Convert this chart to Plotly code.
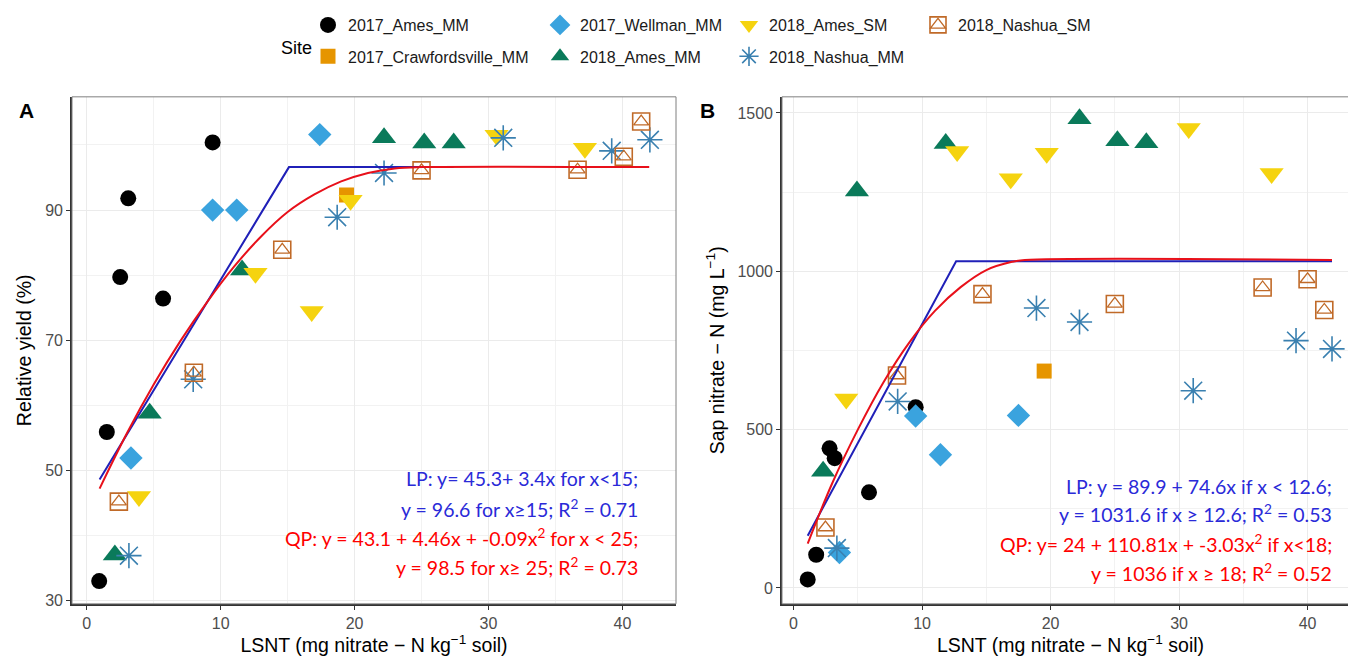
import plotly.graph_objects as go

# ---------------- data ----------------
sites = ["2017_Ames_MM", "2017_Crawfordsville_MM", "2017_Wellman_MM", "2018_Ames_MM",
         "2018_Ames_SM", "2018_Nashua_MM", "2018_Nashua_SM"]

# Panel A: relative yield (%) vs LSNT
a_ames17_x = [0.93, 1.5, 2.5, 3.1, 5.7, 9.4]
a_ames17_y = [33.0, 55.9, 79.7, 91.8, 76.4, 100.4]
a_craw17_x = [19.4]
a_craw17_y = [92.3]
a_well17_x = [3.3, 9.4, 11.2, 17.4]
a_well17_y = [51.9, 90.0, 90.0, 101.6]
a_ames18mm_x = [2.1, 4.7, 11.6, 22.2, 25.2, 27.4]
a_ames18mm_y = [37.0, 58.8, 80.8, 101.1, 100.3, 100.3]
a_ames18sm_x = [3.9, 12.6, 16.8, 19.7, 30.6, 37.2]
a_ames18sm_y = [46.0, 80.3, 74.4, 91.5, 101.5, 99.5]
a_nash18mm_x = [3.15, 7.95, 18.7, 22.2, 31.1, 39.2, 42.05]
a_nash18mm_y = [36.9, 64.0, 88.9, 95.7, 101.1, 99.1, 100.8]
a_nash18sm_x = [2.4, 8.0, 14.6, 25.0, 36.65, 40.1, 41.4]
a_nash18sm_y = [45.2, 65.0, 83.9, 96.1, 96.2, 98.2, 103.6]

a_lp_x = [0.96, 15.1, 27.4]
a_lp_y = [48.6, 96.6, 96.6]
a_qp_x = [0.96, 3, 5, 7, 9, 11, 13, 15, 17, 19, 21, 23, 25, 42.0]
a_qp_y = [47.2, 55.7, 63.2, 69.9, 75.9, 81.3, 85.9, 89.7, 92.4, 94.4, 95.7, 96.4, 96.6, 96.6]

# Panel B: sap nitrate-N (mg/L) vs LSNT
b_ames17_x = [1.1, 1.76, 2.8, 3.2, 5.87, 9.5]
b_ames17_y = [27, 105, 441, 410, 302, 571]
b_craw17_x = [19.5]
b_craw17_y = [685]
b_well17_x = [3.57, 9.5, 11.43, 17.5]
b_well17_y = [112, 543, 421, 545]
b_ames18mm_x = [2.3, 4.93, 11.84, 22.25, 25.2, 27.45]
b_ames18mm_y = [369, 1254, 1404, 1482, 1412, 1406]
b_ames18sm_x = [4.1, 12.73, 16.9, 19.7, 30.75, 37.2]
b_ames18sm_y = [597, 1378, 1292, 1373, 1451, 1309]
b_nash18mm_x = [3.37, 8.1, 18.9, 22.25, 31.1, 39.1, 41.9]
b_nash18mm_y = [126, 589, 884, 840, 623, 781, 755]
b_nash18sm_x = [2.48, 8.05, 14.7, 25.0, 36.5, 40.0, 41.3]
b_nash18sm_y = [191, 671, 928, 897, 949, 975, 878]

b_lp_x = [1.1, 12.65, 41.9]
b_lp_y = [165, 1031.6, 1031.6]
b_qp_x = [1.1, 3, 5, 7, 9, 11, 13, 15, 17, 18, 41.9]
b_qp_y = [140, 330, 500, 650, 775, 875, 950, 1004, 1030, 1036, 1036]

x_ticks = [0, 10, 20, 30, 40]
a_y_ticks = [30, 50, 70, 90]
b_y_ticks = [0, 500, 1000, 1500]

a_eq = ["LP: y= 45.3+ 3.4x for x<15;",
        "y = 96.6 for x≥15; R<sup>2</sup> = 0.71",
        "QP: y = 43.1 + 4.46x + -0.09x<sup>2</sup> for x < 25;",
        "y = 98.5 for x≥ 25; R<sup>2</sup> = 0.73"]
b_eq = ["LP: y = 89.9 + 74.6x if x < 12.6;",
        "y = 1031.6 if x ≥ 12.6; R<sup>2</sup> = 0.53",
        "QP: y= 24 + 110.81x + -3.03x<sup>2</sup> if x<18;",
        "y = 1036 if x ≥ 18; R<sup>2</sup> = 0.52"]

# ---------------- styles ----------------
styles = {
    "2017_Ames_MM": dict(symbol="circle", color="#000000", size=16),
    "2017_Crawfordsville_MM": dict(symbol="square", color="#E69500", size=15),
    "2017_Wellman_MM": dict(symbol="diamond", color="#3AA3DE", size=18),
    "2018_Ames_MM": dict(symbol="triangle-up", color="#0A7A5A", size=21),
    "2018_Ames_SM": dict(symbol="triangle-down", color="#F5D30F", size=21),
    "2018_Nashua_MM": dict(symbol="asterisk-open", color="#3A80B0", size=21),
    "2018_Nashua_SM": dict(symbol="square-open", color="#C06A28", size=17),
}
# legend box left edges (px) and row centres (px)
LEG_X = {"2017_Ames_MM": 300, "2017_Crawfordsville_MM": 300, "2017_Wellman_MM": 532,
         "2018_Ames_MM": 532, "2018_Ames_SM": 721, "2018_Nashua_MM": 721, "2018_Nashua_SM": 910}
LEG_ROW = {"2017_Ames_MM": 13, "2017_Crawfordsville_MM": 45, "2017_Wellman_MM": 13,
           "2018_Ames_MM": 45, "2018_Ames_SM": 13, "2018_Nashua_MM": 45, "2018_Nashua_SM": 13}

W, H = 1356, 661
panelA = dict(x="x", y="y")
panelB = dict(x="x2", y="y2")

data_a = {
    "2017_Ames_MM": (a_ames17_x, a_ames17_y),
    "2017_Crawfordsville_MM": (a_craw17_x, a_craw17_y),
    "2017_Wellman_MM": (a_well17_x, a_well17_y),
    "2018_Ames_MM": (a_ames18mm_x, a_ames18mm_y),
    "2018_Ames_SM": (a_ames18sm_x, a_ames18sm_y),
    "2018_Nashua_MM": (a_nash18mm_x, a_nash18mm_y),
    "2018_Nashua_SM": (a_nash18sm_x, a_nash18sm_y),
}
data_b = {
    "2017_Ames_MM": (b_ames17_x, b_ames17_y),
    "2017_Crawfordsville_MM": (b_craw17_x, b_craw17_y),
    "2017_Wellman_MM": (b_well17_x, b_well17_y),
    "2018_Ames_MM": (b_ames18mm_x, b_ames18mm_y),
    "2018_Ames_SM": (b_ames18sm_x, b_ames18sm_y),
    "2018_Nashua_MM": (b_nash18mm_x, b_nash18mm_y),
    "2018_Nashua_SM": (b_nash18sm_x, b_nash18sm_y),
}

fig = go.Figure()


def marker_for(s):
    st = styles[s]
    m = dict(symbol=st["symbol"], color=st["color"], size=st["size"])
    if "open" in st["symbol"]:
        m["line"] = dict(color=st["color"], width=1.6)
    else:
        m["line"] = dict(width=0)
    return m


layout_legends = {}
for i, s in enumerate(sites):
    lname = "legend" if i == 0 else f"legend{i + 1}"
    for panel, data, show in ((panelA, data_a, True), (panelB, data_b, False)):
        xs, ys = data[s]
        fig.add_trace(go.Scatter(x=xs, y=ys, mode="markers", name=s, legendgroup=s,
                                 showlegend=show, legend=lname, marker=marker_for(s),
                                 xaxis=panel["x"], yaxis=panel["y"]))
    layout_legends[lname] = dict(x=LEG_X[s] / W, y=1 - LEG_ROW[s] / H, xanchor="left",
                                 yanchor="middle", bgcolor="rgba(0,0,0,0)", itemwidth=30,
                                 font=dict(family="Liberation Sans", size=16, color="#1A1A1A"))

# inner triangle of the "square + triangle" symbol (2018_Nashua_SM)
tri_leg = "legend8"
for panel, data, show in ((panelA, data_a, True), (panelB, data_b, False)):
    xs, ys = data["2018_Nashua_SM"]
    fig.add_trace(go.Scatter(x=xs, y=ys, mode="markers", name=" ", legendgroup="2018_Nashua_SM",
                             showlegend=show, legend=tri_leg,
                             marker=dict(symbol="triangle-up-open", size=13,
                                         color=styles["2018_Nashua_SM"]["color"],
                                         line=dict(width=1.3, color=styles["2018_Nashua_SM"]["color"])),
                             xaxis=panel["x"], yaxis=panel["y"]))
layout_legends[tri_leg] = dict(layout_legends["legend7"])

# fitted lines
fig.add_trace(go.Scatter(x=a_lp_x, y=a_lp_y, mode="lines", line=dict(color="#2020B8", width=2),
                         showlegend=False, xaxis="x", yaxis="y"))
fig.add_trace(go.Scatter(x=a_qp_x, y=a_qp_y, mode="lines", line=dict(color="#E8101A", width=2, shape="spline"),
                         showlegend=False, xaxis="x", yaxis="y"))
fig.add_trace(go.Scatter(x=b_lp_x, y=b_lp_y, mode="lines", line=dict(color="#2020B8", width=2),
                         showlegend=False, xaxis="x2", yaxis="y2"))
fig.add_trace(go.Scatter(x=b_qp_x, y=b_qp_y, mode="lines", line=dict(color="#E8101A", width=2, shape="spline"),
                         showlegend=False, xaxis="x2", yaxis="y2"))

tickfont = dict(family="Liberation Sans", size=16, color="#4D4D4D")
titlefont = dict(family="Liberation Sans", size=19.5, color="#000000")
grid = "#EBEBEB"


def xax(domain, anchor, rng):
    return dict(domain=domain, anchor=anchor, range=rng, tickvals=x_ticks,
                showgrid=True, gridcolor=grid, gridwidth=1.2,
                minor=dict(dtick=5, tick0=0, showgrid=True, gridcolor="#F2F2F2", gridwidth=0.7),
                ticks="outside", ticklen=4, tickcolor="#333333", tickfont=tickfont,
                showline=True, linecolor="#333333", linewidth=1.6, zeroline=False,
                title=dict(text="LSNT (mg nitrate − N kg<sup>−1</sup> soil)", font=titlefont, standoff=6))


def yax(domain, anchor, rng, ticks, minor_dtick, minor_tick0, title):
    return dict(domain=domain, anchor=anchor, range=rng, tickvals=ticks,
                showgrid=True, gridcolor=grid, gridwidth=1.2,
                minor=dict(dtick=minor_dtick, tick0=minor_tick0, showgrid=True, gridcolor="#F2F2F2", gridwidth=0.7),
                ticks="outside", ticklen=4, tickcolor="#333333", tickfont=tickfont,
                showline=True, linecolor="#333333", linewidth=1.6, zeroline=False,
                title=dict(text=title, font=titlefont, standoff=8))


ydom = [(H - 600) / H, (H - 86) / H]
fig.update_layout(
    width=W, height=H, margin=dict(l=0, r=0, t=0, b=0),
    paper_bgcolor="white", plot_bgcolor="white",
    xaxis=xax([64 / W, 668 / W], "y", [-1.1, 44.0]),
    yaxis=yax(ydom, "x", [29.5, 107.4], a_y_ticks, 10, 30, "Relative yield (%)"),
    xaxis2=xax([774 / W, 1351 / W], "y2", [-0.9, 44.0]),
    yaxis2=yax(ydom, "x2", [-50, 1551], b_y_ticks, 250, 0, "Sap nitrate − N (mg L<sup>−1</sup>)"),
    **layout_legends,
)

# panel borders
for xr, yr in (("x", "y"), ("x2", "y2")):
    fig.add_shape(type="rect", xref=f"{xr} domain", yref=f"{yr} domain", x0=0, x1=1, y0=0, y1=1,
                  line=dict(color="#7F7F7F", width=1), layer="above")

eq_font = "Lato"
a_eq_y = [48.8, 44.2, 39.7, 35.2]
b_eq_y = [322, 234, 141, 48]
eq_cols = ["#2A2AD8", "#2A2AD8", "#FF0000", "#FF0000"]
for t, yv, c in zip(a_eq, a_eq_y, eq_cols):
    fig.add_annotation(x=41.3, y=yv, xref="x", yref="y", text=t, showarrow=False, xanchor="right",
                       yanchor="middle", font=dict(family=eq_font, size=19.5, color=c))
for t, yv, c in zip(b_eq, b_eq_y, eq_cols):
    fig.add_annotation(x=42.06, y=yv, xref="x2", yref="y2", text=t, showarrow=False, xanchor="right",
                       yanchor="middle", font=dict(family=eq_font, size=19.5, color=c))

# panel letters and legend title
fig.add_annotation(x=18 / W, y=1 - 100 / H, xref="paper", yref="paper", text="<b>A</b>", showarrow=False,
                   xanchor="center", yanchor="middle",
                   font=dict(family="Liberation Sans", size=21, color="black"))
fig.add_annotation(x=699 / W, y=1 - 100 / H, xref="paper", yref="paper", text="<b>B</b>", showarrow=False,
                   xanchor="center", yanchor="middle",
                   font=dict(family="Liberation Sans", size=21, color="black"))
fig.add_annotation(x=288 / W, y=1 - 37 / H, xref="paper", yref="paper", text="Site", showarrow=False,
                   xanchor="center", yanchor="middle",
                   font=dict(family="Liberation Sans", size=18, color="black"))

fig.write_html("out.html")
